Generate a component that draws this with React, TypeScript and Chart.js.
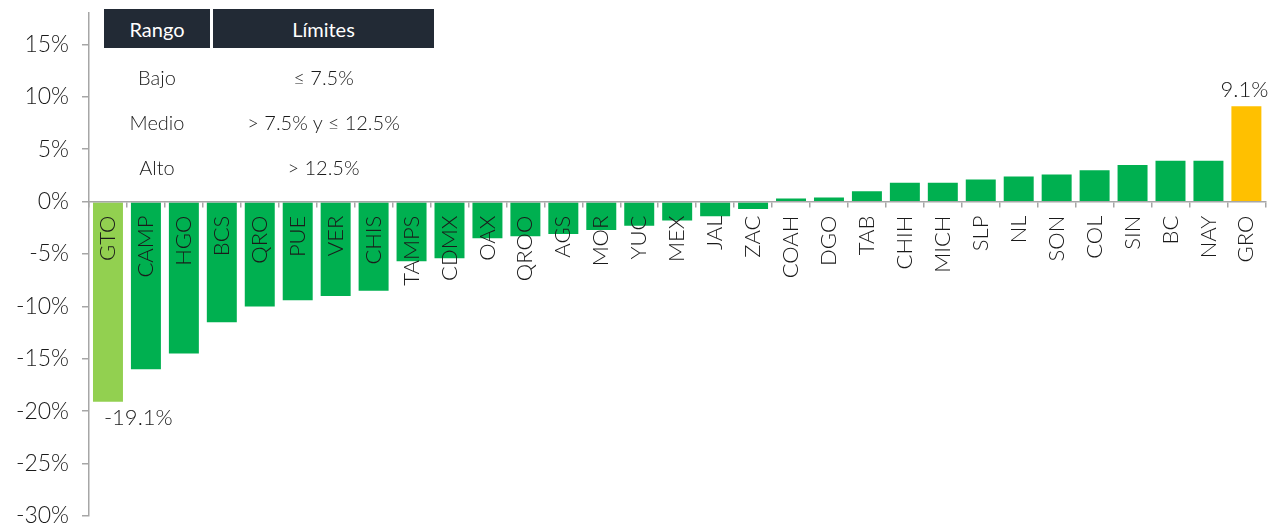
import React, { useEffect, useRef } from 'react';
import { Chart, registerables } from 'chart.js';

Chart.register(...registerables);

// ---- Data ----
const categories = [
  'GTO', 'CAMP', 'HGO', 'BCS', 'QRO', 'PUE', 'VER', 'CHIS', 'TAMPS', 'CDMX',
  'OAX', 'QROO', 'AGS', 'MOR', 'YUC', 'MEX', 'JAL', 'ZAC', 'COAH', 'DGO',
  'TAB', 'CHIH', 'MICH', 'SLP', 'NL', 'SON', 'COL', 'SIN', 'BC', 'NAY', 'GRO',
];
const values = [
  -19.1, -16.0, -14.5, -11.5, -10.0, -9.4, -9.0, -8.5, -5.7, -5.4,
  -3.5, -3.3, -3.1, -2.7, -2.3, -1.8, -1.4, -0.7, 0.3, 0.4,
  1.0, 1.8, 1.8, 2.1, 2.4, 2.6, 3.0, 3.5, 3.9, 3.9, 9.1,
];
const labeledCategories = ['GTO', 'GRO'];
const yTickValues = [-30, -25, -20, -15, -10, -5, 0, 5, 10, 15];
const tableHeaders = ['Rango', 'Límites'];
const rangeNames = ['Bajo', 'Medio', 'Alto'];
const rangeLimits = ['≤ 7.5%', '> 7.5% y ≤ 12.5%', '> 12.5%'];

// ---- Styles ----
const GREEN = '#00b050';
const LIGHT_GREEN = '#92d050';
const GOLD = '#ffc000';
const AXIS_GRAY = '#a6a6a6';
const TEXT = '#1a1a1a';
const FONT = 'Lato, "Open Sans", sans-serif';
const WEIGHT = 300;

const colorFor = (c: string) => (c === 'GTO' ? LIGHT_GREEN : c === 'GRO' ? GOLD : GREEN);

const CANVAS_W = 1282;
const CANVAS_H = 580;
const CANVAS_TOP = -20;

const valueLabelPlugin = {
  id: 'valueLabels',
  afterDatasetsDraw(chart: any) {
    const ctx = chart.ctx;
    const meta = chart.getDatasetMeta(0);
    ctx.save();
    ctx.font = `${WEIGHT} 22px ${FONT}`;
    ctx.fillStyle = TEXT;
    ctx.textBaseline = 'alphabetic';
    meta.data.forEach((bar: any, i: number) => {
      if (!labeledCategories.includes(categories[i])) return;
      const v = values[i];
      const text = `${v.toFixed(1)}%`;
      if (v >= 0) {
        ctx.textAlign = 'center';
        ctx.fillText(text, bar.x - 2, bar.y - 9);
      } else {
        ctx.textAlign = 'left';
        ctx.fillText(text, bar.x - 4, bar.y + 23);
      }
    });
    ctx.restore();
  },
};

function BarChart() {
  const canvasRef = useRef<HTMLCanvasElement | null>(null);

  useEffect(() => {
    if (!canvasRef.current) return;
    const chart = new Chart(canvasRef.current, {
      type: 'bar',
      data: {
        labels: categories,
        datasets: [
          {
            data: values,
            backgroundColor: categories.map(colorFor),
            borderWidth: 0,
            barPercentage: 0.79,
            categoryPercentage: 1,
          },
        ],
      },
      options: {
        responsive: false,
        animation: false,
        layout: { padding: { left: 0, right: 13, top: 33, bottom: 44 } },
        plugins: {
          legend: { display: false },
          tooltip: { enabled: false },
        },
        scales: {
          x: {
            position: { y: 0 } as any,
            grid: {
              offset: true,
              drawOnChartArea: false,
              drawTicks: true,
              tickLength: 5,
              color: AXIS_GRAY,
              lineWidth: 1.5,
              z: 1,
            } as any,
            border: { display: true, color: AXIS_GRAY, width: 1.5, z: 1 } as any,
            ticks: {
              z: 2,
              autoSkip: false,
              minRotation: 90,
              maxRotation: 90,
              padding: 9,
              color: TEXT,
              font: { family: FONT, size: 22, weight: WEIGHT as any },
            },
          },
          y: {
            min: -30,
            max: 18,
            afterBuildTicks: (scale: any) => {
              scale.ticks = yTickValues.map((v) => ({ value: v }));
            },
            afterFit: (scale: any) => {
              scale.width = 89;
            },
            grid: {
              drawOnChartArea: false,
              drawTicks: true,
              tickLength: 7,
              color: AXIS_GRAY,
              lineWidth: 1.5,
            },
            border: { display: true, color: AXIS_GRAY, width: 1.5 },
            ticks: {
              padding: 13,
              color: TEXT,
              font: { family: FONT, size: 23, weight: WEIGHT as any },
              callback: (v: any) => `${v}%`,
            },
          },
        },
      },
      plugins: [valueLabelPlugin],
    });
    return () => chart.destroy();
  }, []);

  return (
    <canvas
      ref={canvasRef}
      width={CANVAS_W}
      height={CANVAS_H}
      style={{ position: 'absolute', left: 0, top: CANVAS_TOP, width: CANVAS_W, height: CANVAS_H }}
    />
  );
}

function RangeTable() {
  const cell: React.CSSProperties = {
    position: 'absolute',
    display: 'flex',
    alignItems: 'center',
    justifyContent: 'center',
    fontFamily: FONT,
    fontWeight: WEIGHT,
    fontSize: 20,
    whiteSpace: 'nowrap',
  };
  const head: React.CSSProperties = {
    ...cell,
    fontWeight: 400,
    top: 9,
    height: 39,
    background: '#222a35',
    color: '#ffffff',
  };
  const col1 = { left: 104, width: 106 };
  const col2 = { left: 213, width: 221 };
  const rowCenters = [77, 122, 167];
  return (
    <>
      <div style={{ ...head, ...col1 }}>{tableHeaders[0]}</div>
      <div style={{ ...head, ...col2 }}>{tableHeaders[1]}</div>
      {rangeNames.map((name, i) => (
        <React.Fragment key={name}>
          <div style={{ ...cell, ...col1, top: rowCenters[i] - 15, height: 30, color: TEXT }}>{name}</div>
          <div style={{ ...cell, ...col2, top: rowCenters[i] - 15, height: 30, color: TEXT }}>
            {rangeLimits[i]}
          </div>
        </React.Fragment>
      ))}
    </>
  );
}

export default function App() {
  return (
    <div
      style={{
        position: 'fixed',
        left: 0,
        top: 0,
        width: 1282,
        height: 524,
        overflow: 'hidden',
        background: '#ffffff',
      }}
    >
      <BarChart />
      <RangeTable />
    </div>
  );
}
